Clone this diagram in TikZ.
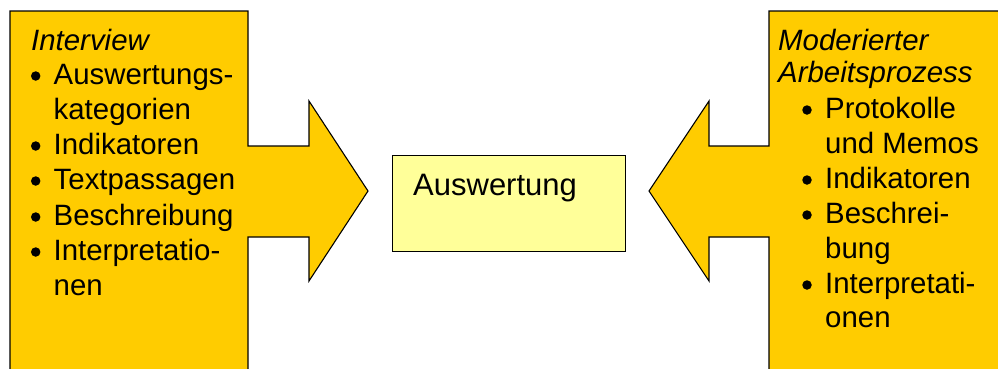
\documentclass[tikz,border=0pt]{standalone}
\usepackage{fontspec}
\setmainfont{Liberation Sans}
\definecolor{gold}{HTML}{FFCC00}
\definecolor{paleyellow}{HTML}{FFFF99}
\begin{document}
\begin{tikzpicture}[x=1pt,y=-1pt,
  arrowshape/.style={fill=gold,draw=black,line width=1.1pt,line join=miter},
  resultbox/.style={fill=paleyellow,draw=black,line width=1.1pt,anchor=north west,inner sep=0pt,minimum width=233pt,minimum height=96pt},
  txt/.style={anchor=base west,inner sep=0pt,font=\fontsize{29.4}{34}\selectfont},
  itxt/.style={txt,font=\fontsize{29.4}{34}\selectfont\itshape},
  bul/.style={circle,fill=black,inner sep=0pt,minimum size=9.5pt}]
\useasboundingbox (0,0) rectangle (998,368);
\begin{scope}
\clip (0,0) rectangle (998,368);
\draw[arrowshape] (10,380) -- (10,11) -- (248,11) -- (248,146) -- (309,146) -- (309,101) -- (368,191) -- (309,281) -- (309,237) -- (248,237) -- (248,380);
\draw[arrowshape] (1010,380) -- (1010,11) -- (769,11) -- (769,146) -- (709,146) -- (709,101) -- (649,191) -- (709,281) -- (709,237) -- (769,237) -- (769,380);
\end{scope}
\node[resultbox] (box) at (392,155) {};
\node[txt,font=\fontsize{31}{36}\selectfont] (ausw) at (413,195) {Auswertung};
% left list
\node[itxt] (lt) at (31,50) {Interview};
\node[bul] (lb1) at (35.7,76) {};
\node[txt] (l1) at (53.5,84) {Auswertungs-};
\node[txt] (l1b) at (53.5,119) {kategorien};
\node[bul] (lb2) at (35.7,146) {};
\node[txt] (l2) at (53.5,154) {Indikatoren};
\node[bul] (lb3) at (35.7,181) {};
\node[txt] (l3) at (53.5,189) {Textpassagen};
\node[bul] (lb4) at (35.7,217) {};
\node[txt] (l4) at (53.5,225) {Beschreibung};
\node[bul] (lb5) at (35.7,252) {};
\node[txt] (l5) at (53.5,260) {Interpretatio-};
\node[txt] (l5b) at (53.5,295) {nen};
% right list
\node[itxt] (rt) at (778,50) {Moderierter};
\node[itxt] (rt2) at (778,82) {Arbeitsprozess};
\node[bul] (rb1) at (807,110) {};
\node[txt] (r1) at (825,118) {Protokolle};
\node[txt] (r1b) at (825,153) {und Memos};
\node[bul] (rb2) at (807,180) {};
\node[txt] (r2) at (825,188) {Indikatoren};
\node[bul] (rb3) at (807,215) {};
\node[txt] (r3) at (825,223) {Beschrei-};
\node[txt] (r3b) at (825,258) {bung};
\node[bul] (rb4) at (807,285) {};
\node[txt] (r4) at (825,293) {Interpretati-};
\node[txt] (r4b) at (825,327) {onen};
\end{tikzpicture}
\end{document}
